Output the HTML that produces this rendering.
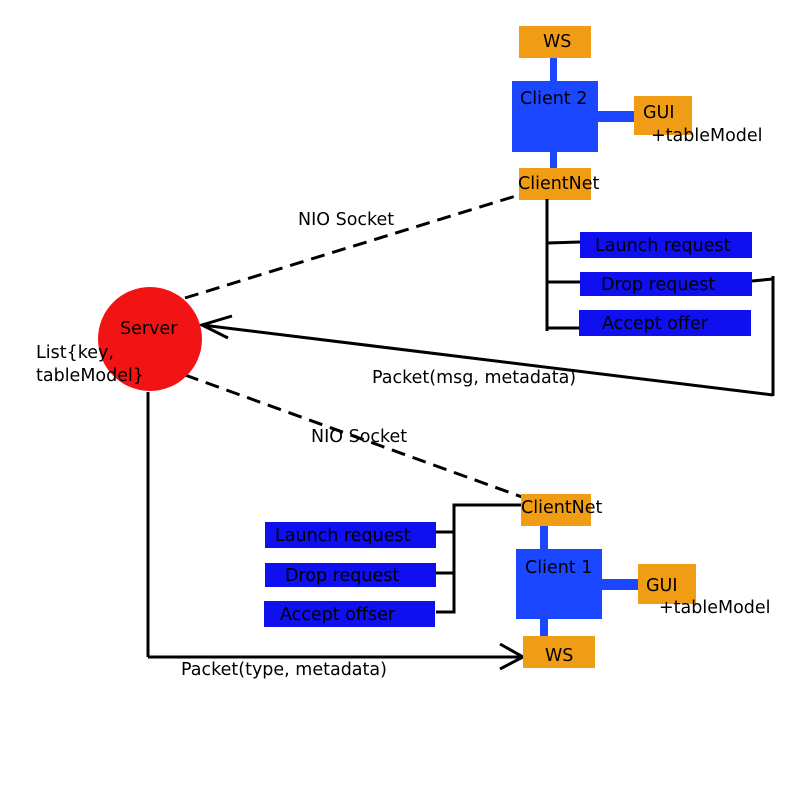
<!DOCTYPE html>
<html><head><style>body{margin:0;background:#fff}svg{display:block}text{font-family:"DejaVu Sans","Liberation Sans",sans-serif;font-size:17.5px;fill:#000}</style></head>
<body>
<svg width="800" height="800" viewBox="0 0 800 800">
<rect width="800" height="800" fill="#fff"/>
<!-- Client 2 group -->
<rect x="550" y="57" width="7" height="25" fill="#1a47ff"/>
<rect x="550" y="150" width="7" height="20" fill="#1a47ff"/>
<rect x="596" y="111" width="40" height="11" fill="#1a47ff"/>
<rect x="519" y="26" width="72" height="32" fill="#f09c15"/>
<rect x="512" y="81" width="86" height="71" fill="#1a47ff"/>
<rect x="634" y="96" width="58" height="39" fill="#f09c15"/>
<rect x="519" y="168" width="72" height="32" fill="#f09c15"/>
<text x="543" y="47">WS</text>
<text x="520" y="104">Client 2</text>
<text x="643" y="118">GUI</text>
<text x="651" y="141">+tableModel</text>
<text x="518" y="189">ClientNet</text>
<g stroke="#000" stroke-width="3" fill="none">
<line x1="547" y1="199" x2="547" y2="331"/>
<line x1="547" y1="243" x2="580" y2="242"/>
<line x1="547" y1="282" x2="580" y2="282"/>
<line x1="547" y1="328" x2="580" y2="328"/>
<polyline points="752,281 773,279"/>
<line x1="773" y1="276" x2="773" y2="396"/>
<line x1="773" y1="395" x2="202" y2="325"/>
<polyline points="232,316 202,325 228,338"/>
<line x1="185" y1="298" x2="519" y2="195" stroke-dasharray="14,8"/>
<line x1="185" y1="375" x2="522" y2="497" stroke-dasharray="14,8"/>
<line x1="148" y1="392" x2="148" y2="657"/>
<line x1="148" y1="657" x2="523" y2="657"/>
<polyline points="500,644 523,657 500,669"/>
<polyline points="521,505 454,505 454,612 436,612"/>
<line x1="436" y1="532" x2="454" y2="532"/>
<line x1="436" y1="573" x2="454" y2="573"/>
</g>
<rect x="580" y="232" width="172" height="26" fill="#0f0ff0"/>
<rect x="580" y="272" width="172" height="24" fill="#0f0ff0"/>
<rect x="579" y="310" width="172" height="26" fill="#0f0ff0"/>
<text x="595" y="251">Launch request</text>
<text x="601" y="290">Drop request</text>
<text x="602" y="329">Accept offer</text>
<!-- Server -->
<circle cx="150" cy="339" r="52" fill="#f21414"/>
<text x="120" y="334">Server</text>
<text x="36" y="358">List{key,</text>
<text x="36" y="381">tableModel}</text>
<text x="298" y="225">NIO Socket</text>
<text x="311" y="442">NIO Socket</text>
<text x="372" y="383">Packet(msg, metadata)</text>
<text x="181" y="675">Packet(type, metadata)</text>
<!-- Client 1 group -->
<rect x="540" y="525" width="8" height="26" fill="#1a47ff"/>
<rect x="540" y="617" width="8" height="21" fill="#1a47ff"/>
<rect x="600" y="579" width="40" height="11" fill="#1a47ff"/>
<rect x="521" y="494" width="70" height="32" fill="#f09c15"/>
<rect x="516" y="549" width="86" height="70" fill="#1a47ff"/>
<rect x="638" y="564" width="58" height="40" fill="#f09c15"/>
<rect x="523" y="636" width="72" height="32" fill="#f09c15"/>
<text x="521" y="513">ClientNet</text>
<text x="525" y="573">Client 1</text>
<text x="646" y="591">GUI</text>
<text x="659" y="613">+tableModel</text>
<text x="545" y="661">WS</text>
<rect x="265" y="522" width="171" height="26" fill="#0f0ff0"/>
<rect x="265" y="563" width="171" height="24" fill="#0f0ff0"/>
<rect x="264" y="601" width="171" height="26" fill="#0f0ff0"/>
<text x="275" y="541">Launch request</text>
<text x="285" y="581">Drop request</text>
<text x="280" y="620">Accept offser</text>
</svg>
</body></html>
